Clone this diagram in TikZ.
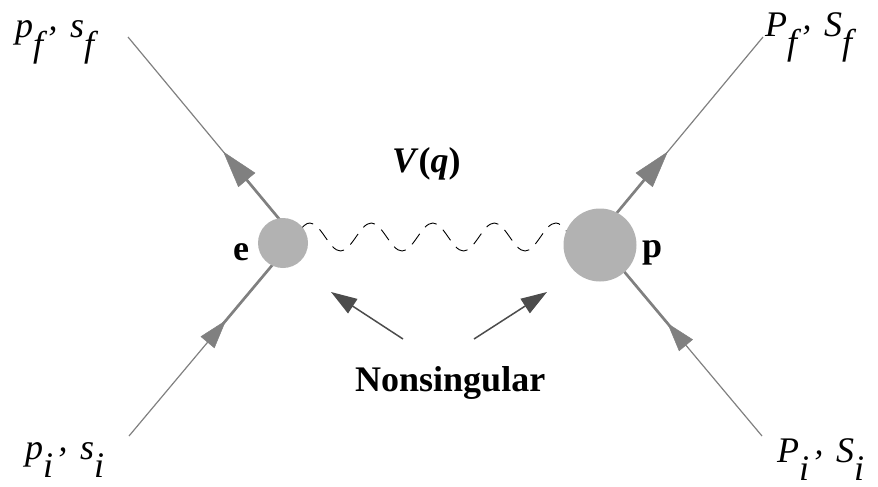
\documentclass[tikz,border=0pt]{standalone}
\usepackage{fontspec}
\setmainfont{Liberation Serif}
\usetikzlibrary{arrows.meta,calc,decorations.pathmorphing}

\definecolor{legcol}{gray}{0.5}
\definecolor{blobcol}{gray}{0.7}
\definecolor{notecol}{gray}{0.3}

% momentum and spin label, subscript set at full size
\newcommand{\kin}[3]{\textit{#1\raisebox{-.5em}{#3}\kern.15em\raisebox{.2em}{,}\kern.1em{} #2\raisebox{-.5em}{#3}}}

\tikzset{
  leg/.style={draw=legcol,line width=1.2pt},
  legbold/.style={draw=legcol,line width=2.7pt},
  headbig/.style={draw=legcol,line width=.5pt,-{Triangle[length=37pt,width=22pt]}},
  headsmall/.style={draw=legcol,line width=.5pt,-{Triangle[length=29pt,width=18pt]}},
  blob/.style={circle,fill=blobcol,inner sep=0pt},
  photon/.style={draw=black,line width=.9pt,decorate,
    decoration={snake,amplitude=14pt,segment length=61.5pt},
    dash pattern=on 13pt off 8.5pt,dash phase=6.5pt},
  note/.style={draw=notecol,line width=1.5pt,-{Triangle[length=26pt,width=17pt]}},
  lbl/.style={inner sep=0pt,anchor=base west,font=\fontsize{36pt}{40pt}\selectfont}
}

\begin{document}
\begin{tikzpicture}[x=1pt,y=-1pt]
  \useasboundingbox (0,0) rectangle (878,487);

  % vertices and outer ends
  \coordinate (ev) at (295,238);
  \coordinate (pv) at (596,238);
  \coordinate (eout) at (128,37);
  \coordinate (ein) at (129,436);
  \coordinate (pout) at (763,37);
  \coordinate (pin) at (762,436);

  % arrow tips on the legs
  \coordinate (eouttip) at ($(ev)!0.43!(eout)$);
  \coordinate (eintip) at ($(ev)!0.415!(ein)$);
  \coordinate (pouttip) at ($(pv)!0.43!(pout)$);
  \coordinate (pintip) at ($(pv)!0.43!(pin)$);

  % thin outer parts
  \draw[leg] (eout) -- (ev);
  \draw[leg] (ein) -- (ev);
  \draw[leg] (pout) -- (pv);
  \draw[leg] (pin) -- (pv);

  % thick inner parts
  \draw[legbold] (ev) -- ($(eouttip)!20pt!(ev)$);
  \draw[legbold] (ev) -- ($(eintip)!5pt!(ein)$);
  \draw[legbold] (pv) -- ($(pouttip)!20pt!(pv)$);
  \draw[legbold] (pv) -- ($(pintip)!5pt!(pin)$);

  % arrowheads
  \draw[headbig] ($(eouttip)!37pt!(ev)$) -- (eouttip);
  \draw[headsmall] ($(eintip)!29pt!(ein)$) -- (eintip);
  \draw[headbig] ($(pouttip)!37pt!(pv)$) -- (pouttip);
  \draw[headsmall] ($(pintip)!29pt!(pin)$) -- (pintip);

  % exchanged potential
  \coordinate (wl) at (290.6,237);
  \coordinate (wr) at (598.1,237);
  \draw[photon] (wl) -- (wr);

  \node[blob,minimum size=50pt] (e) at (283,243) {};
  \node[blob,minimum size=73pt] (p) at (600,245) {};

  \node[lbl] (elbl) at (233,260) {\textbf{e}};
  \node[lbl] (plbl) at (642,257) {\textbf{p}};
  \node[lbl] (vq) at (392,172) {\textbf{\textit{V}(\textit{q})}};

  \node[lbl] (eoutlbl) at (15,38) {\kin{p}{s}{f}};
  \node[lbl] (einlbl) at (25,459) {\kin{p}{s}{i}};
  \node[lbl] (poutlbl) at (765,37) {\kin{P}{S}{f}};
  \node[lbl] (pinlbl) at (777,462) {\kin{P}{S}{i}};

  \node[lbl] (ns) at (355,391) {\textbf{Nonsingular}};
  \coordinate (nsl) at (403,339);
  \coordinate (nsr) at (474,339);
  \coordinate (nsltip) at (331,292);
  \coordinate (nsrtip) at (547,292);
  \draw[note] (nsl) -- (nsltip);
  \draw[note] (nsr) -- (nsrtip);
\end{tikzpicture}
\end{document}
